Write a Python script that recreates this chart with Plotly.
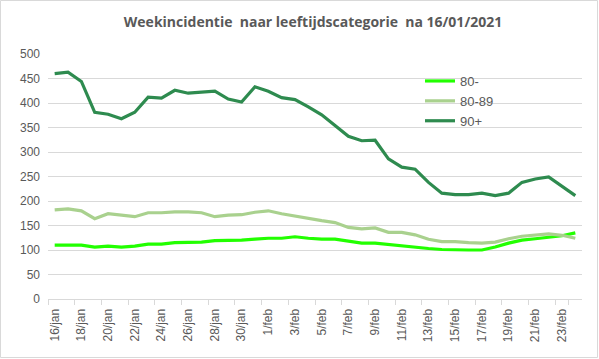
import plotly.graph_objects as go

dates = ["16/jan", "17/jan", "18/jan", "19/jan", "20/jan", "21/jan", "22/jan", "23/jan",
         "24/jan", "25/jan", "26/jan", "27/jan", "28/jan", "29/jan", "30/jan", "31/jan",
         "1/feb", "2/feb", "3/feb", "4/feb", "5/feb", "6/feb", "7/feb", "8/feb", "9/feb",
         "10/feb", "11/feb", "12/feb", "13/feb", "14/feb", "15/feb", "16/feb", "17/feb",
         "18/feb", "19/feb", "20/feb", "21/feb", "22/feb", "23/feb", "24/feb"]

v_80min = [110, 110, 110, 106, 108, 106, 108, 112, 112, 115, 116, 116, 119, 119, 120,
           122, 124, 124, 127, 124, 122, 122, 118, 114, 114, 111, 108, 105, 103,
           101, 100, 100, 100, 106, 114, 120, 123, 126, 129, 135]

v_8089 = [182, 184, 180, 164, 174, 171, 168, 176, 176, 178, 178, 176, 168, 171, 172,
          177, 180, 174, 169, 165, 160, 156, 146, 143, 145, 136, 136, 131, 122,
          117, 117, 115, 114, 116, 123, 128, 131, 133, 130, 124]

v_90plus = [460, 463, 444, 381, 377, 368, 381, 412, 410, 426, 420, 422, 424, 408, 402,
            433, 424, 411, 407, 392, 376, 354, 332, 323, 324, 286, 269, 265, 238,
            216, 213, 213, 216, 211, 216, 238, 245, 249, 230, 211]

series = [("80-", v_80min, "#22ff00"), ("80-89", v_8089, "#a9d18e"), ("90+", v_90plus, "#2e8b4f")]

fig = go.Figure()
for name, vals, col in series:
    fig.add_trace(go.Scatter(x=dates, y=vals, name=name, mode="lines",
                             line=dict(color=col, width=3.2)))

W, H = 599, 359
ml, mr, mt, mb = 48, 17, 54, 60
pw, ph = W - ml - mr, H - mt - mb

fig.update_layout(
    width=W, height=H,
    margin=dict(l=ml, r=mr, t=mt, b=mb, autoexpand=False),
    paper_bgcolor="white", plot_bgcolor="white",
    font=dict(family="Liberation Sans, Arial", color="#595959", size=12),
    title=dict(text="Weekincidentie\u00a0 naar leeftijdscategorie\u00a0 na 16/01/2021",
               x=(313 - ml) / pw, xref="paper", xanchor="center",
               y=1 - 22 / H, yanchor="middle", yref="container",
               font=dict(family="Open Sans, Lato, sans-serif", size=14, color="#595959",
                         weight="bold")),
    showlegend=True,
    legend=dict(x=(420 - ml) / pw, y=1 - (66 - mt) / ph, xanchor="left", yanchor="top",
                bgcolor="rgba(0,0,0,0)", font=dict(size=13, color="#595959"),
                tracegroupgap=0, itemwidth=30),
    xaxis=dict(type="category", categoryorder="array", categoryarray=dates,
               range=[-0.5, len(dates) - 0.5], tickson="boundaries",
               tickmode="array", tickvals=dates[::2], ticktext=dates[::2],
               tickangle=-90, ticks="outside", ticklen=5, tickcolor="#d9d9d9",
               ticklabelstandoff=4, automargin=False,
               showline=True, linecolor="#d9d9d9", linewidth=1,
               showgrid=False, zeroline=False,
               tickfont=dict(size=12, color="#595959")),
    yaxis=dict(range=[0, 500], dtick=50, tick0=0, showgrid=True, gridcolor="#d9d9d9",
               gridwidth=1, zeroline=False, showline=False, ticks="",
               ticklabelstandoff=7, automargin=False,
               tickfont=dict(size=12, color="#595959")),
    shapes=[dict(type="rect", xref="paper", yref="paper",
                 x0=-(ml - 0.5) / pw, x1=1 + (mr - 1.5) / pw,
                 y0=-(mb - 1.5) / ph, y1=1 + (mt - 0.5) / ph,
                 line=dict(color="#d9d9d9", width=1), layer="below")],
)

fig.write_html("out.html", config={"displayModeBar": False},
               post_script="document.body.style.margin='0';document.body.style.overflow='hidden';")
